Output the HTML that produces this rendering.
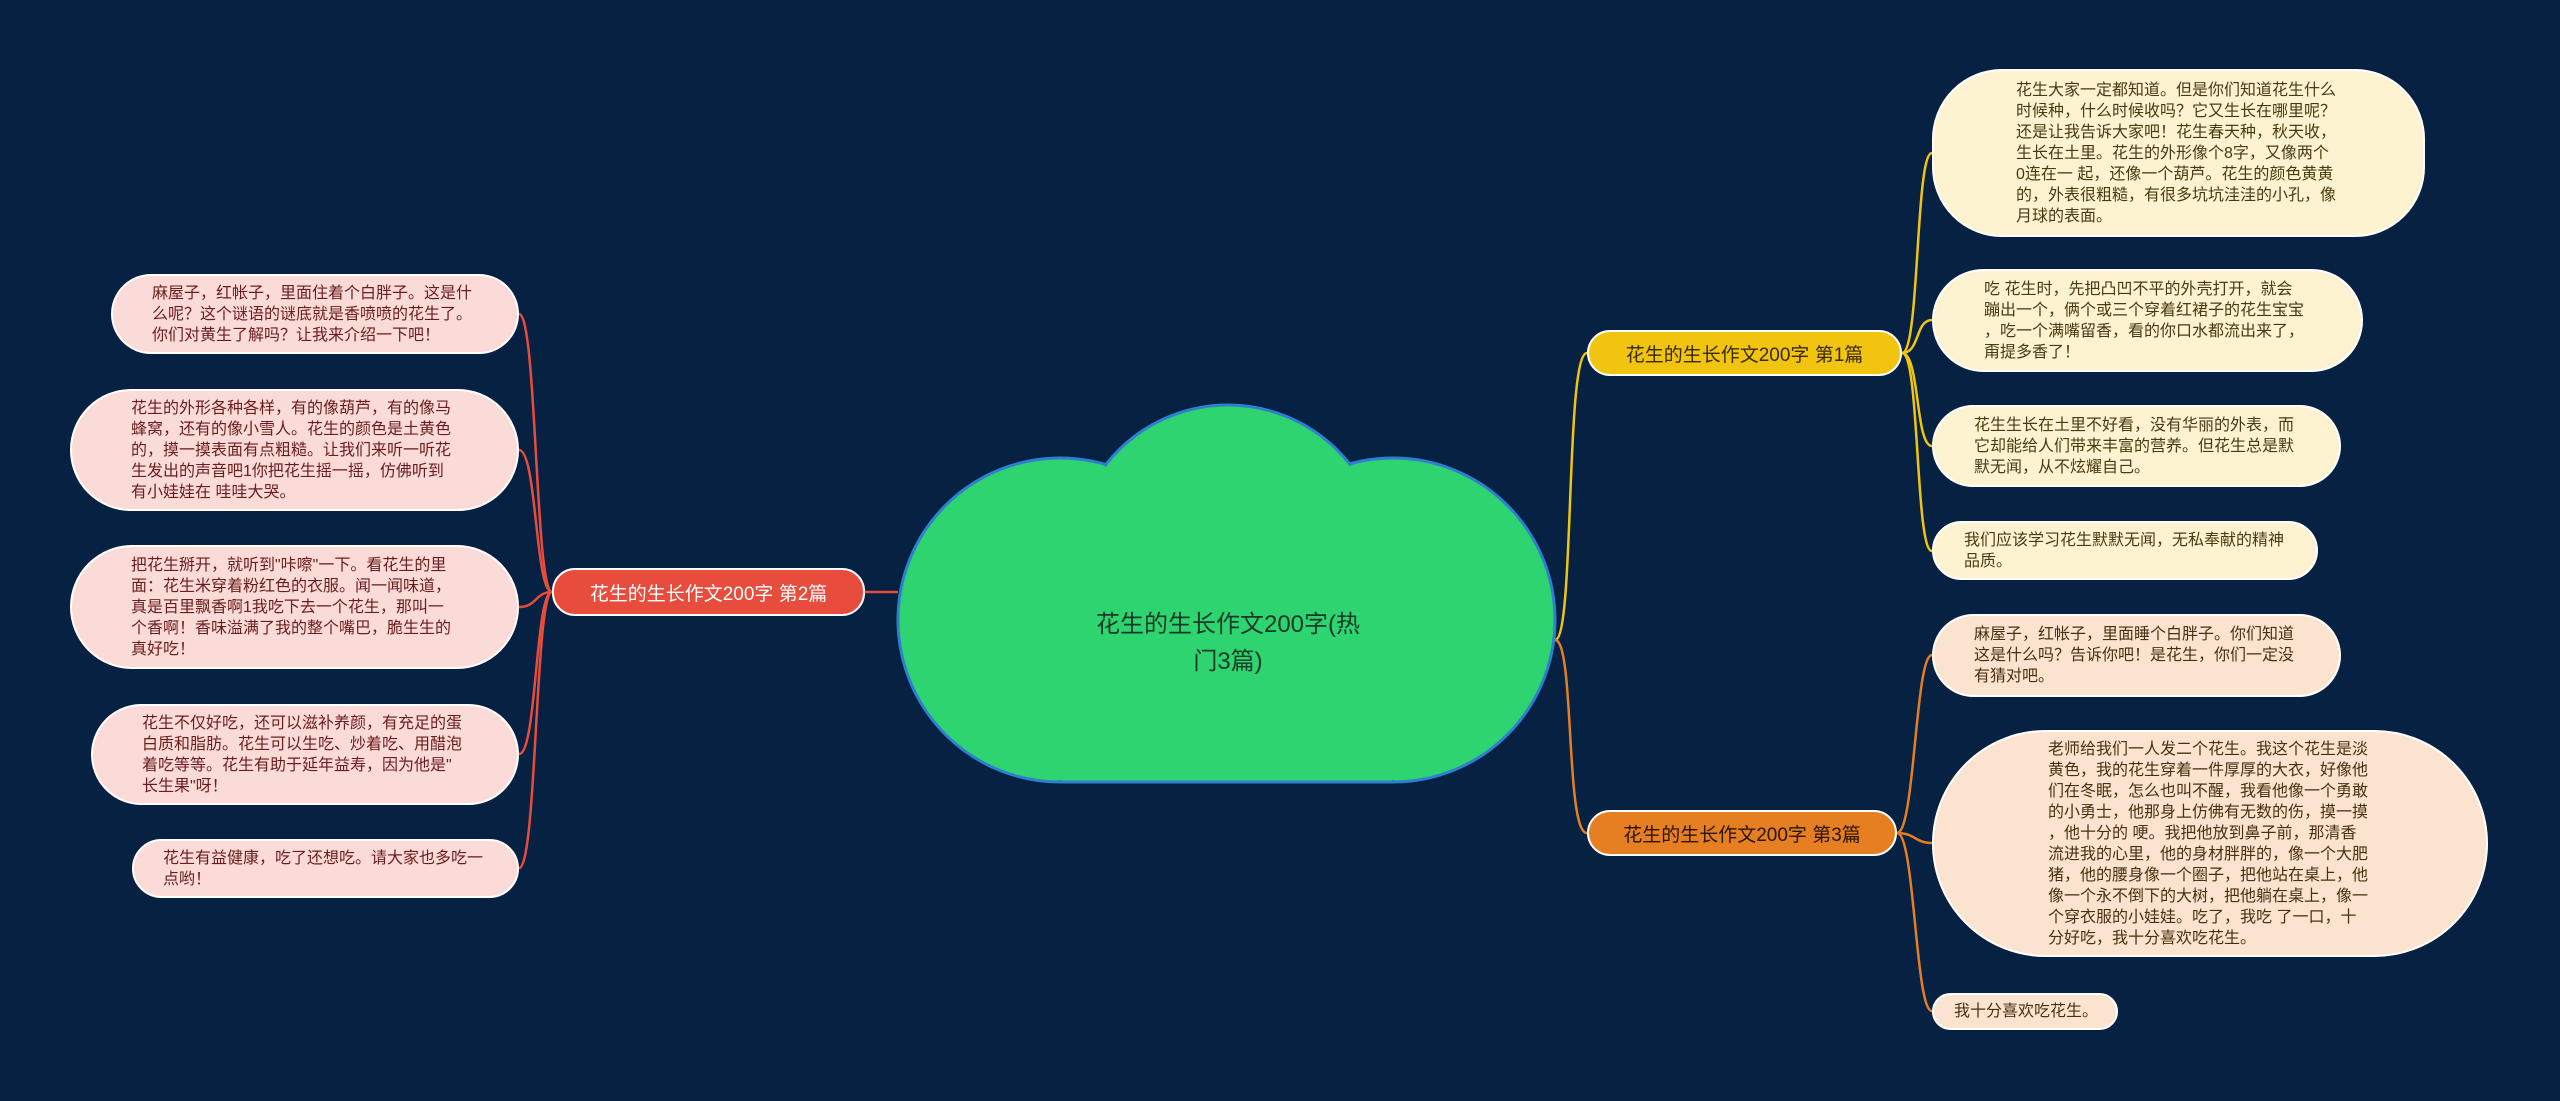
<!DOCTYPE html>
<html><head><meta charset="utf-8"><style>
html,body{margin:0;padding:0}
body{width:2560px;height:1101px;background:#062142;position:relative;overflow:hidden;font-family:"Liberation Sans","Noto Sans CJK SC",sans-serif}
.leaf{position:absolute;box-sizing:border-box;border:2px solid #fff;border-radius:70px;display:flex;align-items:center;font-size:16px;line-height:21px}
.leaf div{position:absolute;white-space:nowrap}
.y{background:#fdf3d0;color:#4a3a10}
.o{background:#fbe4cf;color:#4a3010}
.r{background:#fadbd7;color:#6b1d1d}
.node{position:absolute;box-sizing:border-box;border-radius:23px;display:flex;align-items:center;justify-content:center;font-size:19px;border:2px solid #fff}
</style></head><body>
<svg width="2560" height="1101" style="position:absolute;left:0;top:0">
<g fill="none" stroke-width="2.5">
<path d="M1555 640 C1575 640,1565 353,1587 353" stroke="#f1c40f"/>
<path d="M1555 640 C1575 640,1565 833,1587 833" stroke="#e67e22"/>
<path d="M898 592 L865 592" stroke="#e74c3c"/>
<g stroke="#f1c40f">
<path d="M1902 353 C1920 353,1915 153,1932 153"/>
<path d="M1902 353 C1920 353,1915 320,1932 320"/>
<path d="M1902 353 C1920 353,1915 446,1932 446"/>
<path d="M1902 353 C1920 353,1915 551,1932 551"/>
</g>
<g stroke="#e67e22">
<path d="M1897 833 C1915 833,1915 655,1932 655"/>
<path d="M1897 833 C1915 833,1915 843,1932 843"/>
<path d="M1897 833 C1915 833,1915 1011,1932 1011"/>
</g>
<g stroke="#e74c3c">
<path d="M552 592 C535 592,537 314,519 314"/>
<path d="M552 592 C535 592,537 450,519 450"/>
<path d="M552 592 C535 592,537 607,519 607"/>
<path d="M552 592 C535 592,537 754,519 754"/>
<path d="M552 592 C535 592,537 868,519 868"/>
</g>
</g>
<g stroke="#2f7fd0" stroke-width="3" fill="#2dd46f">
<circle cx="1060" cy="620" r="162"/><circle cx="1393" cy="620" r="162"/><circle cx="1228" cy="560" r="155"/>
<rect x="1060" y="620" width="333" height="162"/>
</g>
<g fill="#2dd46f">
<circle cx="1060" cy="620" r="160"/><circle cx="1393" cy="620" r="160"/><circle cx="1228" cy="560" r="153"/>
<rect x="1060" y="600" width="333" height="180"/>
</g>
<text x="1228" y="632" text-anchor="middle" font-size="24" fill="#173a28" font-family="Liberation Sans,Noto Sans CJK SC,sans-serif">花生的生长作文200字(热</text>
<text x="1228" y="669" text-anchor="middle" font-size="24" fill="#173a28" font-family="Liberation Sans,Noto Sans CJK SC,sans-serif">门3篇)</text>
</svg>

<div class="node" style="left:1587px;top:330px;width:315px;height:46px;background:#f1c40f;color:#3a2a00">花生的生长作文200字 第1篇</div>
<div class="node" style="left:1587px;top:810px;width:310px;height:46px;background:#e67e22;color:#2a1500">花生的生长作文200字 第3篇</div>
<div class="node" style="left:552px;top:568px;width:313px;height:48px;background:#e74c3c;color:#fff">花生的生长作文200字 第2篇</div>

<div class="leaf y" style="left:1932px;top:69px;width:493px;height:168px"><div style="left:82px">花生大家一定都知道。但是你们知道花生什么<br>时候种，什么时候收吗？它又生长在哪里呢？<br>还是让我告诉大家吧！花生春天种，秋天收，<br>生长在土里。花生的外形像个8字，又像两个<br>0连在一 起，还像一个葫芦。花生的颜色黄黄<br>的，外表很粗糙，有很多坑坑洼洼的小孔，像<br>月球的表面。</div></div>
<div class="leaf y" style="left:1932px;top:269px;width:431px;height:103px"><div style="left:50px">吃 花生时，先把凸凹不平的外壳打开，就会<br>蹦出一个，俩个或三个穿着红裙子的花生宝宝<br>，吃一个满嘴留香，看的你口水都流出来了，<br>甭提多香了！</div></div>
<div class="leaf y" style="left:1932px;top:405px;width:409px;height:82px"><div style="left:40px">花生生长在土里不好看，没有华丽的外表，而<br>它却能给人们带来丰富的营养。但花生总是默<br>默无闻，从不炫耀自己。</div></div>
<div class="leaf y" style="left:1932px;top:521px;width:386px;height:59px"><div style="left:30px">我们应该学习花生默默无闻，无私奉献的精神<br>品质。</div></div>

<div class="leaf o" style="left:1932px;top:614px;width:409px;height:83px"><div style="left:40px">麻屋子，红帐子，里面睡个白胖子。你们知道<br>这是什么吗？告诉你吧！是花生，你们一定没<br>有猜对吧。</div></div>
<div class="leaf o" style="left:1932px;top:730px;width:556px;height:227px;border-radius:115px"><div style="left:114px">老师给我们一人发二个花生。我这个花生是淡<br>黄色，我的花生穿着一件厚厚的大衣，好像他<br>们在冬眠，怎么也叫不醒，我看他像一个勇敢<br>的小勇士，他那身上仿佛有无数的伤，摸一摸<br>，他十分的 哽。我把他放到鼻子前，那清香<br>流进我的心里，他的身材胖胖的，像一个大肥<br>猪，他的腰身像一个圈子，把他站在桌上，他<br>像一个永不倒下的大树，把他躺在桌上，像一<br>个穿衣服的小娃娃。吃了，我吃 了一口，十<br>分好吃，我十分喜欢吃花生。</div></div>
<div class="leaf o" style="left:1932px;top:993px;width:186px;height:37px"><div style="left:20px">我十分喜欢吃花生。</div></div>

<div class="leaf r" style="left:111px;top:274px;width:408px;height:80px"><div style="left:39px">麻屋子，红帐子，里面住着个白胖子。这是什<br>么呢？这个谜语的谜底就是香喷喷的花生了。<br>你们对黄生了解吗？让我来介绍一下吧！</div></div>
<div class="leaf r" style="left:70px;top:389px;width:449px;height:122px"><div style="left:59px">花生的外形各种各样，有的像葫芦，有的像马<br>蜂窝，还有的像小雪人。花生的颜色是土黄色<br>的，摸一摸表面有点粗糙。让我们来听一听花<br>生发出的声音吧1你把花生摇一摇，仿佛听到<br>有小娃娃在 哇哇大哭。</div></div>
<div class="leaf r" style="left:70px;top:545px;width:449px;height:124px"><div style="left:59px">把花生掰开，就听到"咔嚓"一下。看花生的里<br>面：花生米穿着粉红色的衣服。闻一闻味道，<br>真是百里飘香啊1我吃下去一个花生，那叫一<br>个香啊！香味溢满了我的整个嘴巴，脆生生的<br>真好吃！</div></div>
<div class="leaf r" style="left:91px;top:704px;width:428px;height:101px"><div style="left:49px">花生不仅好吃，还可以滋补养颜，有充足的蛋<br>白质和脂肪。花生可以生吃、炒着吃、用醋泡<br>着吃等等。花生有助于延年益寿，因为他是"<br>长生果"呀！</div></div>
<div class="leaf r" style="left:132px;top:839px;width:387px;height:59px"><div style="left:29px">花生有益健康，吃了还想吃。请大家也多吃一<br>点哟！</div></div>
</body></html>
